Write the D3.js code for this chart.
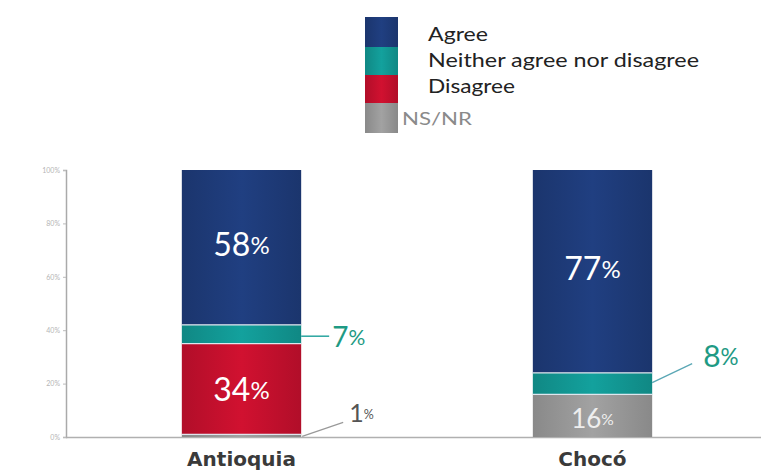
<!DOCTYPE html>
<html><head><meta charset="utf-8">
<script src="https://cdn.jsdelivr.net/npm/d3@7"></script>
<style>body{margin:0;background:#fff}svg{display:block}</style>
</head><body>
<svg id="c" width="761" height="473"></svg>
<script>
const categories = ["Antioquia", "Chocó"];
const seriesNames = ["Agree", "Neither agree nor disagree", "Disagree", "NS/NR"];
const agree    = [58, 77];
const neither  = [7, 8];
const disagree = [34, 0];
const nsnr     = [1, 16];
const tickLabels = ["0%", "20%", "40%", "60%", "80%", "100%"];
const tickValues = [0, 20, 40, 60, 80, 100];

(function(){
const colors = ["#1f3c7c", "#129a96", "#c8102e", "#9b9b9b"];
const font = "Lato, 'Open Sans', sans-serif";
const catFont = "'DejaVu Sans', Verdana, sans-serif";

const svg = d3.select("#c");
const yTop = 170, yBot = 437, xLeft = 66, xRight = 761;

const y = d3.scaleLinear().domain([0, 100]).range([yBot, yTop]).clamp(true);
const x = d3.scaleBand().domain(categories).range([66, 768]).paddingInner(0.66).paddingOuter(0.33);

const defs = svg.append("defs");
colors.forEach((c, i) => {
  const g = defs.append("linearGradient").attr("id", "g" + i).attr("x1", 0).attr("x2", 1).attr("y1", 0).attr("y2", 0);
  const dk = d3.color(c).darker(0.35), lt = d3.color(c).brighter(0.12);
  g.append("stop").attr("offset", "0%").attr("stop-color", dk);
  g.append("stop").attr("offset", "50%").attr("stop-color", lt);
  g.append("stop").attr("offset", "100%").attr("stop-color", dk);
});

const axis = d3.axisLeft(y).tickValues(tickValues).tickFormat((d, i) => tickLabels[i]).tickSize(3);
const ag = svg.append("g").attr("transform", `translate(${xLeft},0)`).call(axis);
ag.select(".domain").attr("stroke", "#aaa").attr("stroke-width", 1.5);
ag.selectAll(".tick line").attr("stroke", "#bbb");
ag.selectAll(".tick text").attr("fill", "#b5b5b5").attr("font-size", 7).attr("font-family", font);
svg.append("line").attr("x1", xLeft).attr("x2", xRight).attr("y1", yBot + 0.5).attr("y2", yBot + 0.5)
  .attr("stroke", "#b0b0b0").attr("stroke-width", 1.5);

const rows = categories.map((c, i) => ({cat: c, Agree: agree[i], Neither: neither[i], Disagree: disagree[i], NSNR: nsnr[i]}));
const keys = ["NSNR", "Disagree", "Neither", "Agree"];
const colorIdx = {Agree: 0, Neither: 1, Disagree: 2, NSNR: 3};
const stack = d3.stack().keys(keys)(rows);

stack.forEach(layer => {
  svg.append("g").selectAll("rect").data(layer).join("rect")
    .attr("x", d => x(d.data.cat))
    .attr("width", x.bandwidth())
    .attr("y", d => y(d[1]))
    .attr("height", d => Math.max(0, y(d[0]) - y(d[1])))
    .attr("fill", `url(#g${colorIdx[layer.key]})`);
});
stack.forEach(layer => {
  if (layer.key === "NSNR") return;
  svg.append("g").selectAll("line").data(layer.filter(d => d[1] - d[0] > 0 && d[0] > 0)).join("line")
    .attr("x1", d => x(d.data.cat)).attr("x2", d => x(d.data.cat) + x.bandwidth())
    .attr("y1", d => y(d[0])).attr("y2", d => y(d[0]))
    .attr("stroke", "#dfe6ee").attr("stroke-width", 1.2);
});

function pctLabel(xc, yc, val, size, fill, anchor, pscale) {
  const t = svg.append("text").attr("x", xc).attr("y", yc).attr("text-anchor", anchor || "middle")
    .attr("font-family", font).attr("font-size", size).attr("fill", fill).attr("dominant-baseline", "middle");
  t.append("tspan").text(val);
  t.append("tspan").attr("font-size", size * (pscale || 0.75)).text("%");
  return t;
}

const bw = x.bandwidth();
rows.forEach((r, i) => {
  const cx = x(r.cat) + bw / 2;
  const a = stack[3][i];
  pctLabel(cx, (y(a[0]) + y(a[1])) / 2 + 1, agree[i], 32, "#ffffff");
});
{
  const d = stack[1][0], cx = x(categories[0]) + bw / 2;
  pctLabel(cx, (y(d[0]) + y(d[1])) / 2 + 4, disagree[0], 32, "#ffffff");
}
{
  const d = stack[0][1], cx = x(categories[1]) + bw / 2;
  pctLabel(cx, (y(d[0]) + y(d[1])) / 2 + 5, nsnr[1], 26, "#eeeeee", "middle", 0.6);
}
const teal = "#1e9a84";
{
  const d = stack[2][0], xr = x(categories[0]) + bw, ym = (y(d[0]) + y(d[1])) / 2;
  svg.append("line").attr("x1", xr).attr("x2", xr + 28).attr("y1", ym + 2).attr("y2", ym + 2).attr("stroke", "#2aa5a0").attr("stroke-width", 1.5);
  pctLabel(xr + 31, ym + 6, neither[0], 28, teal, "start");
}
{
  const d = stack[2][1], xr = x(categories[1]) + bw, ym = (y(d[0]) + y(d[1])) / 2;
  svg.append("line").attr("x1", xr).attr("x2", xr + 40).attr("y1", ym - 1).attr("y2", ym - 20).attr("stroke", "#5aa7b5").attr("stroke-width", 1.3);
  pctLabel(xr + 51, ym - 25, neither[1], 30, teal, "start");
}
{
  const d = stack[0][0], xr = x(categories[0]) + bw, ym = y(d[1]);
  svg.append("line").attr("x1", xr + 1).attr("x2", xr + 42).attr("y1", ym + 2).attr("y2", ym - 12).attr("stroke", "#999").attr("stroke-width", 1.2);
  pctLabel(xr + 48, ym - 18, nsnr[0], 25, "#555", "start", 0.5);
}

svg.append("g").selectAll("text").data(categories).join("text")
  .attr("x", d => x(d) + bw / 2).attr("y", 466).attr("text-anchor", "middle")
  .attr("font-family", catFont).attr("font-weight", "bold").attr("font-size", 20).attr("fill", "#3a3a3a")
  .text(d => d);

const lg = svg.append("g");
const sw = [[17, 47], [47, 75], [75, 103], [103, 133]];
seriesNames.forEach((n, i) => {
  lg.append("rect").attr("x", 365).attr("y", sw[i][0]).attr("width", 33).attr("height", sw[i][1] - sw[i][0])
    .attr("fill", `url(#g${i})`);
});
const ly = [41, 67, 93];
const lw = [60, 271, 87];
seriesNames.slice(0, 3).forEach((n, i) => {
  lg.append("text").attr("x", 428).attr("y", ly[i])
    .attr("textLength", lw[i]).attr("lengthAdjust", "spacingAndGlyphs")
    .attr("font-family", font).attr("font-size", 20).attr("fill", "#222").text(n);
});
lg.append("text").attr("x", 402).attr("y", 125).attr("font-family", font).attr("font-size", 18)
  .attr("textLength", 70).attr("lengthAdjust", "spacingAndGlyphs")
  .attr("fill", "#8a8a8a").text(seriesNames[3]);
})();
</script>
</body></html>
